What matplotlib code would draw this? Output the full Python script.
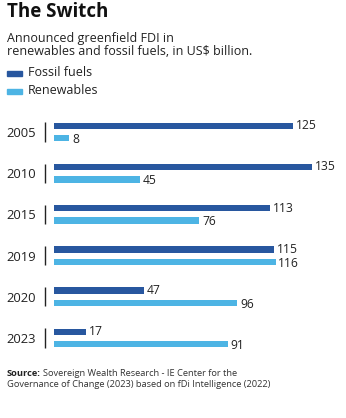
import matplotlib
matplotlib.use('Agg')
import matplotlib.pyplot as plt
import numpy as np

plt.rcParams['font.family'] = ['Open Sans', 'DejaVu Sans']

years = ['2005', '2010', '2015', '2019', '2020', '2023']
fossil = [125, 135, 113, 115, 47, 17]
renewables = [8, 45, 76, 116, 96, 91]

col_fossil = '#28579f'
col_renew = '#4db4e4'

W, H = 346, 418
fig = plt.figure(figsize=(W / 100, H / 100), dpi=100)

# axes placed in pixel terms: x=0 at 54px, 135 at 312px; groups 41.2px apart
px_per_unit = (312 - 54) / 135
xmax = 150
left = 54
width = xmax * px_per_unit
top = 132 - 0.5 * 41.2
bottom = 338 + 0.5 * 41.2
ax = fig.add_axes([left / W, 1 - bottom / H, width / W, (bottom - top) / H])

y = np.arange(len(years))
bh = 6.5 / 41.2
off = 6.2 / 41.2
ax.barh(y - off, fossil, height=bh, color=col_fossil)
ax.barh(y + off, renewables, height=bh, color=col_renew)

for i in range(len(years)):
    ax.annotate(str(fossil[i]), (fossil[i], y[i] - off), xytext=(2, 0),
                textcoords='offset points', va='center', ha='left', fontsize=8.7, color='#222222')
    ax.annotate(str(renewables[i]), (renewables[i], y[i] + off), xytext=(2, -1),
                textcoords='offset points', va='center', ha='left', fontsize=8.7, color='#222222')

# short separator next to each year
ax.vlines(np.full(len(y), -9 / px_per_unit), y - 0.235, y + 0.235, color='#222222', lw=1, clip_on=False)

ax.set_xlim(0, xmax)
ax.set_ylim(len(years) - 0.5, -0.5)
ax.set_yticks(y)
ax.set_yticklabels(years, fontsize=9.4, color='#222222')
ax.tick_params(axis='y', length=0, pad=13)
ax.set_xticks([])
for s in ax.spines.values():
    s.set_visible(False)

# header
fig.text(7 / W, 1 - 12 / H, 'The Switch', fontsize=13.5, fontweight='bold', va='center', ha='left', color='#111111')
fig.text(7 / W, 1 - 45 / H, 'Announced greenfield FDI in\nrenewables and fossil fuels, in US$ billion.',
         fontsize=9.0, va='center', ha='left', color='#222222', linespacing=1.05)

# legend
for ly, lab, c in [(73, 'Fossil fuels', col_fossil), (91, 'Renewables', col_renew)]:
    fig.patches.append(plt.Rectangle((7 / W, 1 - (ly + 2.5) / H), 15 / W, 5 / H,
                                     transform=fig.transFigure, color=c))
    fig.text(28 / W, 1 - ly / H, lab, fontsize=9.0, va='center', ha='left', color='#222222')

# source
fig.text(7 / W, 1 - 373 / H, 'Source:', fontsize=6.7, fontweight='bold', va='center', ha='left', color='#222222')
fig.text(43 / W, 1 - 373 / H, 'Sovereign Wealth Research - IE Center for the',
         fontsize=6.7, va='center', ha='left', color='#333333')
fig.text(7 / W, 1 - 384.5 / H, 'Governance of Change (2023) based on fDi Intelligence (2022)',
         fontsize=6.7, va='center', ha='left', color='#333333')

fig.savefig('out.png', dpi=100)
